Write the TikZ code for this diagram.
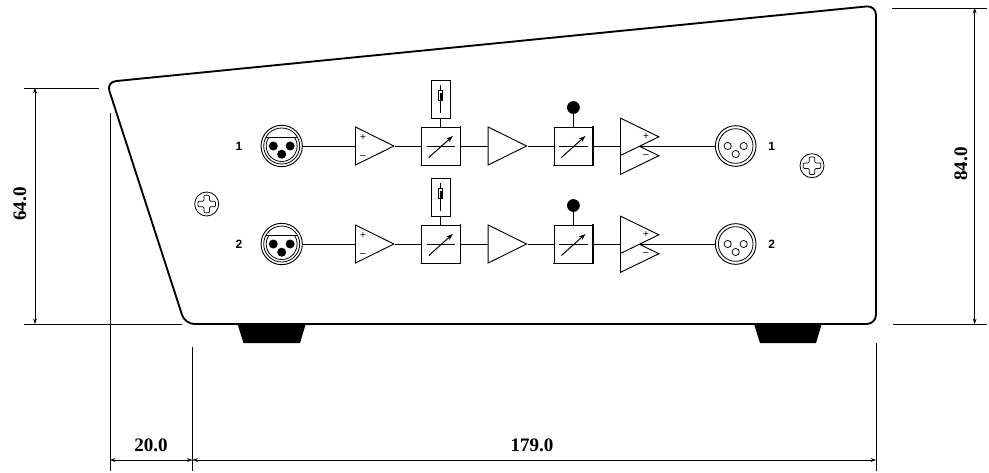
\documentclass[tikz,border=0pt]{standalone}
\usepackage{fontspec}
\setmainfont{Liberation Serif}
\setsansfont{Liberation Sans}
\usetikzlibrary{arrows.meta,shapes.geometric,backgrounds}
\tikzset{
  wire/.style={line width=0.7pt},
  body/.style={line width=1.4pt,rounded corners=7pt},
  foot/.style={fill=black,draw=none},
  ext/.style={line width=0.6pt},
  dimline/.style={line width=0.6pt,{Stealth[length=4pt,width=2.8pt]}-{Stealth[length=4pt,width=2.8pt]}},
  dimtext/.style={font=\rmfamily\bfseries\fontsize{14.3}{14}\selectfont,inner sep=0pt},
  rowlabel/.style={font=\sffamily\bfseries\fontsize{9}{9}\selectfont,inner sep=0pt},
  sign/.style={font=\sffamily\fontsize{7.5}{7.5}\selectfont,inner sep=0pt},
  amp/.style={isosceles triangle,isosceles triangle stretches,draw,fill=white,line width=0.7pt,inner sep=0pt,minimum width=28.5pt,minimum height=28.8pt,anchor=lower side},
  ctrl/.style={rectangle,draw,fill=white,line width=0.7pt,inner sep=0pt,minimum width=28.8pt,minimum height=28.5pt},
  trim/.style={rectangle,draw,fill=white,line width=0.7pt,inner sep=0pt,minimum width=14.2pt,minimum height=28.5pt},
  knob/.style={circle,fill=black,inner sep=0pt,minimum size=9.6pt},
  xlr/.style={circle,draw,fill=white,line width=0.7pt,inner sep=0pt,minimum size=31pt},
  screw/.style={circle,draw,line width=0.6pt,inner sep=0pt,minimum size=18pt},
}
\begin{document}
\begin{tikzpicture}[x=0.75pt,y=-0.75pt]
\useasboundingbox (0,0) rectangle (989,472);
% case outline
\draw[body] (185,324) -- (106.5,82) -- (876,5.5) -- (876,324) -- cycle;
\fill[foot] (237.5,324) -- (305.7,324) -- (300,343) -- (243.5,343) -- cycle;
\fill[foot] (754,324) -- (821.7,324) -- (816,343) -- (760,343) -- cycle;
% screws
\foreach \n/\sx/\sy in {L/206.7/204,R/812/165.7}{
  \node[screw] (screw\n) at (\sx,\sy) {};
  \begin{scope}[shift={(screw\n.center)}]
    \draw[line width=0.55pt,rounded corners=0.8pt] (-2.8,-8.8) -- (2.8,-8.8) -- (2.8,-2.8) -- (8.8,-2.8) -- (8.8,2.8) -- (2.8,2.8) -- (2.8,8.8) -- (-2.8,8.8) -- (-2.8,2.8) -- (-8.8,2.8) -- (-8.8,-2.8) -- (-2.8,-2.8) -- cycle;
  \end{scope}
}
% signal rows
\foreach \r/\y in {1/146,2/244}{
  \node[rowlabel] (labL\r) at (239,\y) {\r};
  \node[rowlabel] (labR\r) at (771.7,\y) {\r};
  \node[xlr] (in\r) at (281.7,\y) {};
  \begin{scope}[shift={(in\r.center)}]
    \draw[line width=0.6pt] (0,0) circle (18);
    \draw[line width=0.6pt] (-16,-8.3) -- (16,-8.3);
    \draw[line width=0.6pt] (-13.1,-8.3) arc[start angle=212.4,end angle=-32.4,radius=15.5];
    \fill (-8.4,0) circle (4.5) (8.4,0) circle (4.5) (0,8.2) circle (4.5);
  \end{scope}
  \node[amp] (pre\r) at (355,\y) {};
  \node[sign] (plus\r) at (363,\y-8) {+};
  \node[sign] (minus\r) at (363,\y+11) {--};
  \node[ctrl] (vca\r) at (440.8,\y) {};
  \node[trim] (tr\r) at (440.8,\y-47) {};
  \node[amp] (buf\r) at (487.7,\y) {};
  \node[ctrl] (vcb\r) at (573.4,\y) {};
  \node[knob] (kn\r) at (573.4,\y-38.5) {};
  \node[amp,minimum width=28pt] (lo\r) at (620,\y+9.7) {};
  \node[amp,minimum width=28pt] (hi\r) at (620,\y-9.2) {};
  \node[sign] (dplus\r) at (646,\y-9.3) {+};
  \node[sign] (dminus\r) at (646,\y+9.7) {--};
  \node[xlr,minimum size=30.5pt] (out\r) at (735.7,\y) {};
  \begin{scope}[shift={(out\r.center)}]
    \draw[line width=0.6pt] (0,0) circle (17.3);
    \draw[line width=0.55pt] (-8,0) circle (3.6) (8,0) circle (3.6) (0,8) circle (3.6);
  \end{scope}
  \begin{scope}[on background layer]
    \draw[wire] (in\r.east) -- (pre\r.lower side);
    \draw[wire] (pre\r.apex) -- (vca\r.west);
    \draw[wire] (vca\r.east) -- (buf\r.lower side);
    \draw[wire] (buf\r.apex) -- (vcb\r.west);
    \draw[wire] (vcb\r.east) -- (out\r.west);
    \draw[wire] (vca\r.north) -- (tr\r.south);
    \draw[wire] (vcb\r.north) -- (kn\r.south);
  \end{scope}
  % box shading and adjust arrows
  \foreach \b in {vca\r,vcb\r}{
    \draw[line width=1pt,line cap=round] (\b.north east) -- (\b.south east) -- (\b.south west);
    \begin{scope}[shift={(\b.center)}]
      \draw[line width=0.6pt] (-14,0) -- (14.5,0);
      \draw[line width=0.75pt,-{Stealth[length=5pt,width=3.6pt]}] (-12,11.5) -- (12,-10);
    \end{scope}
  }
  \begin{scope}[shift={(tr\r.center)}]
    \draw[line width=0.6pt] (0,-14) -- (0,14);
    \draw[fill=white,line width=0.6pt] (-2,-8.5) rectangle (2,1.5);
    \fill (-1.2,-6) rectangle (1.2,1);
  \end{scope}
}
% dimensions
\coordinate (t1) at (891.7,8); \coordinate (t2) at (987,8);
\coordinate (b1) at (893,324); \coordinate (b2) at (987,324);
\coordinate (l1) at (24,88); \coordinate (l2) at (99,88);
\coordinate (l3) at (24,324); \coordinate (l4) at (182,324);
\coordinate (e1) at (110,113); \coordinate (e2) at (110,471);
\coordinate (e3) at (192.5,347); \coordinate (e4) at (192.5,471);
\coordinate (e5) at (876,343); \coordinate (e6) at (876,471);
\coordinate (dA) at (974.7,8); \coordinate (dB) at (974.7,324);
\coordinate (dC) at (35,88); \coordinate (dD) at (35,324);
\coordinate (dE) at (110,460); \coordinate (dF) at (192.5,460);
\coordinate (dG) at (876,460);
\draw[ext] (t1) -- (t2); \draw[ext] (b1) -- (b2);
\draw[ext] (l1) -- (l2); \draw[ext] (l3) -- (l4);
\draw[ext] (e1) -- (e2); \draw[ext] (e3) -- (e4); \draw[ext] (e5) -- (e6);
\draw[dimline] (dA) -- (dB);
\draw[dimline] (dC) -- (dD);
\draw[dimline] (dE) -- (dF);
\draw[dimline] (dF) -- (dG);
\node[dimtext,rotate=90] (d84) at (961,164) {84.0};
\node[dimtext,rotate=90] (d64) at (20,204) {64.0};
\node[dimtext] (d20) at (151,445.7) {20.0};
\node[dimtext] (d179) at (532,445.7) {179.0};
\end{tikzpicture}
\end{document}
